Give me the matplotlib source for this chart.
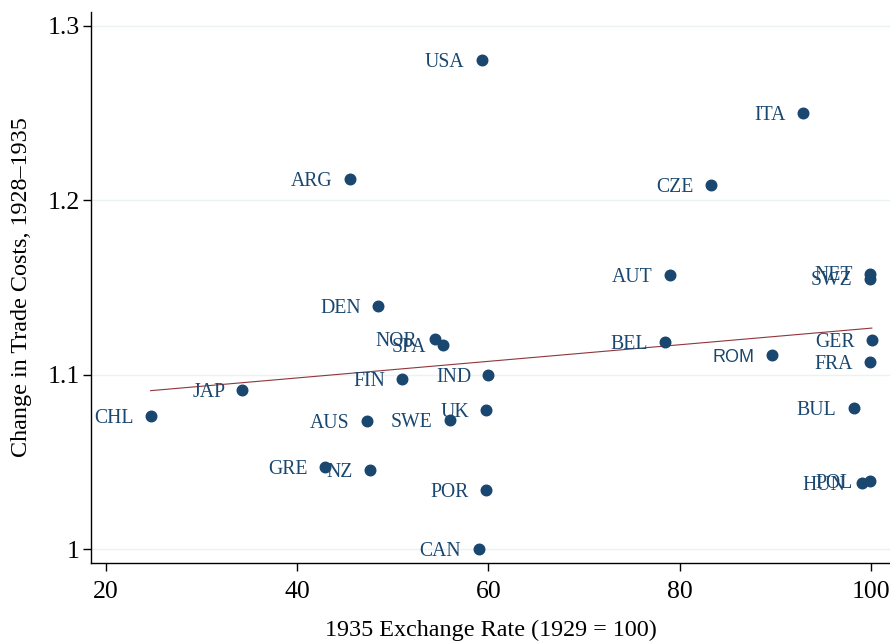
import matplotlib
matplotlib.use("Agg")
import matplotlib.pyplot as plt
import numpy as np

# country codes and values
countries = ["USA", "ITA", "ARG", "CZE", "AUT", "NET", "SWZ", "DEN", "NOR", "SPA",
             "BEL", "GER", "ROM", "FRA", "FIN", "IND", "JAP", "CHL", "UK", "AUS",
             "SWE", "BUL", "GRE", "NZ", "POR", "POL", "HUN", "CAN"]
exchange_rate = [59.3, 92.9, 45.5, 83.3, 79.0, 99.9, 99.9, 48.5, 54.4, 55.3,
                 78.5, 100.1, 89.7, 99.9, 51.0, 60.0, 34.3, 24.7, 59.8, 47.3,
                 56.0, 98.2, 42.9, 47.6, 59.8, 99.9, 99.1, 59.0]
trade_costs = [1.2805, 1.250, 1.2122, 1.2088, 1.157, 1.158, 1.155, 1.1394, 1.1204, 1.117,
               1.1187, 1.1198, 1.1112, 1.1072, 1.0975, 1.0998, 1.0912, 1.0762, 1.0797, 1.0734,
               1.074, 1.0808, 1.047, 1.0453, 1.0338, 1.039, 1.0378, 1.000]

x_ticks = [20, 40, 60, 80, 100]
y_ticks = [1.0, 1.1, 1.2, 1.3]
y_ticklabels = ["1", "1.1", "1.2", "1.3"]

navy = "#1a476f"
serif = "Liberation Serif"
plt.rcParams["font.family"] = serif

fig = plt.figure(figsize=(8.9, 6.41), dpi=100)
ax = fig.add_axes([0.1022, 0.1217, 0.8978, 0.8596])

for y in y_ticks:
    ax.axhline(y, color="#eaf2f3", lw=1.0, zorder=0)

x = np.array(exchange_rate)
y = np.array(trade_costs)
ax.plot(x, y, "o", color=navy, markersize=7.6, zorder=3)

for name, xi, yi in zip(countries, x, y):
    fam = "Liberation Sans" if name == "ROM" else serif
    size = 13.0 if name == "ROM" else 14.2
    ax.annotate(name, (xi, yi), xytext=(-12.5, -1.5), textcoords="offset points",
                ha="right", va="center", color=navy, fontsize=size, family=fam)

# linear fit
b, a = np.polyfit(x, y, 1)
xs = np.array([x.min(), x.max()])
ax.plot(xs, a + b * xs, color="#90353b", lw=0.8, zorder=2)

ax.set_xlim(18.46, 102.0)
ax.set_ylim(0.992, 1.308)
ax.set_xticks(x_ticks)
ax.set_yticks(y_ticks)
ax.set_yticklabels(y_ticklabels)
ax.tick_params(labelsize=18.5, length=6, width=1.0, colors="black")
ax.tick_params(axis="y", pad=2)
ax.tick_params(axis="x", pad=7)

for s in ["top", "right"]:
    ax.spines[s].set_visible(False)
for s in ["left", "bottom"]:
    ax.spines[s].set_linewidth(1.0)

ax.set_xlabel("1935 Exchange Rate (1929 = 100)", fontsize=17.4, labelpad=12)
ax.set_ylabel("Change in Trade Costs, 1928\u20131935", fontsize=17.4, labelpad=11)

fig.savefig("out.png", dpi=100)
